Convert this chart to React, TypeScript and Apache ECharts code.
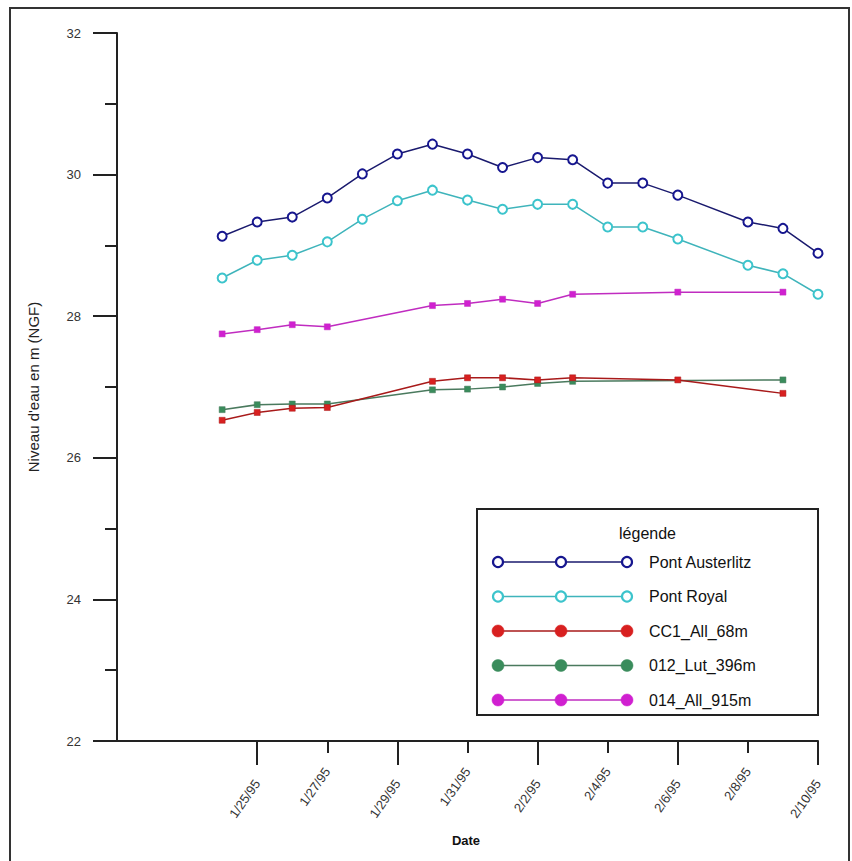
import React, { useEffect, useRef } from "react";
import * as echarts from "echarts";

const dates = [
  "1/24/95", "1/25/95", "1/26/95", "1/27/95", "1/28/95", "1/29/95", "1/30/95", "1/31/95",
  "2/1/95", "2/2/95", "2/3/95", "2/4/95", "2/5/95", "2/6/95", "2/8/95", "2/9/95", "2/10/95",
];
const pontAusterlitz = [29.13, 29.33, 29.4, 29.67, 30.01, 30.29, 30.43, 30.29, 30.1, 30.24, 30.21, 29.88, 29.88, 29.71, 29.33, 29.24, 28.89];
const pontRoyal = [28.54, 28.79, 28.86, 29.05, 29.37, 29.63, 29.78, 29.64, 29.51, 29.58, 29.58, 29.26, 29.26, 29.09, 28.72, 28.6, 28.31];
const cc1All68 = [26.53, 26.64, 26.7, 26.71, null, null, 27.08, 27.13, 27.13, 27.1, 27.13, null, null, 27.1, null, 26.91, null];
const lut012 = [26.68, 26.75, 26.76, 26.76, null, null, 26.96, 26.97, 27.0, 27.05, 27.08, null, null, null, null, 27.1, null];
const all014 = [27.75, 27.81, 27.88, 27.85, null, null, 28.15, 28.18, 28.24, 28.18, 28.31, null, null, 28.34, null, 28.34, null];

const seriesNames = ["Pont Austerlitz", "Pont Royal", "CC1_All_68m", "012_Lut_396m", "014_All_915m"];
const longTickLabels = ["1/25/95", "1/29/95", "2/2/95", "2/6/95", "2/10/95"];
const shortTickLabels = ["1/27/95", "1/31/95", "2/4/95", "2/8/95"];
const axisStart = "1/21/95";
const axisEnd = "2/10/95";
const yTicks = [22, 24, 26, 28, 30, 32];

function dayOf(s: string): number {
  const [m, d, y] = s.split("/").map(Number);
  const base = axisStart.split("/").map(Number);
  return (Date.UTC(1900 + y, m - 1, d) - Date.UTC(1900 + base[2], base[0] - 1, base[1])) / 86400000;
}
function labelOf(v: number): string {
  const all = longTickLabels.concat(shortTickLabels);
  const f = all.find((l) => Math.abs(dayOf(l) - v) < 0.01);
  return f || "";
}
function toData(vals: (number | null)[]) {
  const out: number[][] = [];
  vals.forEach((v, i) => {
    if (v !== null) out.push([dayOf(dates[i]), v]);
  });
  return out;
}

const COLORS = {
  aust: { line: "#1a1a6e", mark: "#16168f" },
  royal: { line: "#3fb4bb", mark: "#3cc4cc" },
  cc1: { line: "#a81a1a", mark: "#d82020" },
  lut: { line: "#4a7a5e", mark: "#3a8c5c" },
  all: { line: "#c02cc0", mark: "#d020d0" },
};

export default function App() {
  const ref = useRef<HTMLDivElement>(null);
  useEffect(() => {
    if (!ref.current) return;
    const chart = echarts.init(ref.current, undefined, { renderer: "svg" });
    const font = "Liberation Sans, Arial, sans-serif";
    const colorList = [COLORS.aust, COLORS.royal, COLORS.cc1, COLORS.lut, COLORS.all];
    const valuesList = [pontAusterlitz, pontRoyal, cc1All68, lut012, all014];

    const series = valuesList.map((vals, i) => {
      const c = colorList[i];
      const hollow = i < 2;
      return {
        type: "line",
        name: seriesNames[i],
        xAxisIndex: 0,
        yAxisIndex: 0,
        data: toData(vals),
        symbol: hollow ? "emptyCircle" : "rect",
        symbolSize: hollow ? 9 : 6,
        lineStyle: { color: c.line, width: 1.5 },
        itemStyle: hollow
          ? { color: c.mark, borderColor: c.mark, borderWidth: 2.2 }
          : { color: c.mark, borderColor: c.line, borderWidth: 0.5 },
        z: 5 - i,
      };
    });

    // legend drawn as graphic
    const lgLeft = 477, lgTop = 509, lgRight = 818, lgBottom = 715;
    const rowY0 = 562, rowStep = 34.5;
    const mx = [498, 561, 627];
    const legendEls: any[] = [
      {
        type: "rect",
        shape: { x: lgLeft, y: lgTop, width: lgRight - lgLeft, height: lgBottom - lgTop },
        style: { fill: "#fff", stroke: "#222", lineWidth: 2 },
        z: 100,
      },
      {
        type: "text",
        x: (lgLeft + lgRight) / 2,
        y: 533,
        style: { text: "légende", fill: "#111", font: `16px ${font}`, textAlign: "center", textVerticalAlign: "middle" },
        z: 101,
      },
    ];
    seriesNames.forEach((name, i) => {
      const c = colorList[i];
      const y = rowY0 + rowStep * i;
      legendEls.push({
        type: "line",
        shape: { x1: mx[0], y1: y, x2: mx[2], y2: y },
        style: { stroke: c.line, lineWidth: 1.5 },
        z: 101,
      });
      mx.forEach((x) => {
        legendEls.push({
          type: "circle",
          shape: { cx: x, cy: y, r: i < 2 ? 5 : 6 },
          style: i < 2 ? { fill: "#fff", stroke: c.mark, lineWidth: 2.2 } : { fill: c.mark, stroke: c.mark, lineWidth: 0.5 },
          z: 102,
        });
      });
      legendEls.push({
        type: "text",
        x: 649,
        y: y,
        style: { text: name, fill: "#111", font: `16px ${font}`, textAlign: "left", textVerticalAlign: "middle" },
        z: 101,
      });
    });

    const option: any = {
      animation: false,
      backgroundColor: "#fff",
      grid: { left: 117, right: 34, top: 33, bottom: 120, containLabel: false, outerBoundsMode: "none" },
      xAxis: [
        {
          type: "value",
          min: dayOf(axisStart),
          max: dayOf(axisEnd),
          position: "bottom",
          axisLine: { show: true, onZero: false, lineStyle: { color: "#222", width: 2 } },
          axisTick: {
            show: true,
            customValues: longTickLabels.map(dayOf),
            length: 24,
            lineStyle: { color: "#222", width: 2 },
          },
          axisLabel: {
            show: true,
            customValues: longTickLabels.map(dayOf),
            formatter: (v: number) => labelOf(v),
            rotate: 55,
            margin: 40,
            color: "#333",
            fontSize: 13,
            fontFamily: font,
          },
          splitLine: { show: false },
        },
        {
          type: "value",
          min: dayOf(axisStart),
          max: dayOf(axisEnd),
          position: "bottom",
          offset: 0,
          axisLine: { show: false, onZero: false },
          axisTick: {
            show: true,
            customValues: shortTickLabels.map(dayOf),
            length: 12,
            lineStyle: { color: "#222", width: 2 },
          },
          axisLabel: {
            show: true,
            customValues: shortTickLabels.map(dayOf),
            formatter: (v: number) => labelOf(v),
            rotate: 55,
            margin: 28,
            color: "#333",
            fontSize: 13,
            fontFamily: font,
          },
          splitLine: { show: false },
        },
      ],
      yAxis: {
        type: "value",
        min: yTicks[0],
        max: yTicks[yTicks.length - 1],
        interval: 2,
        name: "Niveau d'eau en m (NGF)",
        nameLocation: "middle",
        nameGap: 76,
        nameTextStyle: { color: "#222", fontSize: 15, fontFamily: font },
        axisLine: { show: true, lineStyle: { color: "#222", width: 2 } },
        axisTick: { show: true, length: 24, lineStyle: { color: "#222", width: 2 } },
        minorTick: { show: true, splitNumber: 2, length: 12, lineStyle: { color: "#222", width: 2 } },
        axisLabel: { margin: 36, color: "#333", fontSize: 13, fontFamily: font },
        splitLine: { show: false },
        minorSplitLine: { show: false },
      },
      series,
      graphic: [
        {
          type: "rect",
          shape: { x: 10, y: 8, width: 839, height: 900 },
          style: { fill: "none", stroke: "#333", lineWidth: 2 },
          silent: true,
          z: 0,
        },
        {
          type: "text",
          x: 466,
          y: 840,
          style: { text: "Date", fill: "#111", font: `bold 13px ${font}`, textAlign: "center", textVerticalAlign: "middle" },
        },
        ...legendEls,
      ],
    };
    chart.setOption(option);
    return () => chart.dispose();
  }, []);
  return <div ref={ref} style={{ position: "absolute", left: 0, top: 0, width: 852, height: 861 }} />;
}
